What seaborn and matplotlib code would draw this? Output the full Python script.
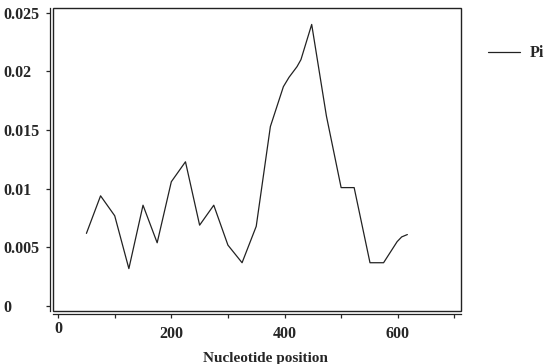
import matplotlib
matplotlib.use('Agg')
import matplotlib.pyplot as plt
import matplotlib.patches as patches
import matplotlib.transforms as mtrans
import seaborn as sns
import pandas as pd

# Nucleotide diversity (Pi) along the sequence
position = [50, 75, 100, 125, 150, 175, 200, 225, 250, 275, 300, 325, 350, 375,
            398, 408, 422, 429, 448, 474, 500, 523, 551, 575, 599, 607, 617]
pi = [0.0062, 0.0094, 0.0077, 0.0032, 0.0086, 0.0054, 0.0106, 0.0123, 0.0069,
      0.0086, 0.0052, 0.0037, 0.0068, 0.0153, 0.0187, 0.0195, 0.0204, 0.0210,
      0.0240, 0.0162, 0.0101, 0.0101, 0.0037, 0.0037, 0.0055, 0.0059, 0.0061]
xticks = [0, 100, 200, 300, 400, 500, 600, 700]
xticklabels = ['0', '', '200', '', '400', '', '600', '']
yticks = [0, 0.005, 0.01, 0.015, 0.02, 0.025]
yticklabels = ['0', '0.005', '0.01', '0.015', '0.02', '0.025']

df = pd.DataFrame({'position': position, 'Pi': pi})

sns.set_style('white')
plt.rcParams['font.family'] = ['Liberation Serif', 'DejaVu Serif']
plt.rcParams['font.weight'] = 'bold'

fig = plt.figure(figsize=(5.5, 3.64), dpi=100)
ax = fig.add_axes([0.0964, 0.146, 0.742, 0.832])

sns.lineplot(data=df, x='position', y='Pi', ax=ax, color='#222222',
             linewidth=0.9, label='Pi')

ax.set_xlim(-9, 712)
ax.set_ylim(-0.0004, 0.0254)
ax.set_xticks(xticks)
ax.set_xticklabels(xticklabels)
ax.set_yticks(yticks)
ax.set_yticklabels(yticklabels)
ax.tick_params(axis='y', direction='out', length=3, width=0.9, pad=31,
               left=True, labelsize=11.5)
ax.tick_params(axis='x', direction='out', length=3, width=0.9, pad=6,
               bottom=True, labelsize=11.5)

for s in ['top', 'right']:
    ax.spines[s].set_visible(False)
for s in ['left', 'bottom']:
    ax.spines[s].set_position(('outward', 2))
    ax.spines[s].set_linewidth(0.9)
    ax.spines[s].set_color('#222222')

# inner frame
ax.add_patch(patches.Rectangle((0, 0), 1, 1, transform=ax.transAxes, fill=False,
                               edgecolor='#222222', linewidth=1.0, clip_on=False))

ax.set_xlabel('Nucleotide position', fontsize=11, fontweight='bold')
ax.xaxis.set_label_coords(0.52, -0.135)
ax.set_ylabel('')

leg = ax.legend(loc='upper left', bbox_to_anchor=(0.861, 0.915),
                bbox_transform=fig.transFigure, frameon=False, handlelength=2.0,
                handletextpad=0.6, prop={'weight': 'bold', 'size': 11.5})

# y tick labels are left aligned in the original
fig.canvas.draw()
for lab in ax.get_yticklabels():
    lab.set_horizontalalignment('left')
    lab.set_fontweight('bold')
for lab in ax.get_xticklabels():
    lab.set_fontweight('bold')
    if lab.get_text() == '0':
        # the "0" sits a little higher than the other x labels
        lab.set_transform(lab.get_transform() +
                          mtrans.ScaledTranslation(0, 0.05, fig.dpi_scale_trans))

fig.savefig('out.png', dpi=100)
